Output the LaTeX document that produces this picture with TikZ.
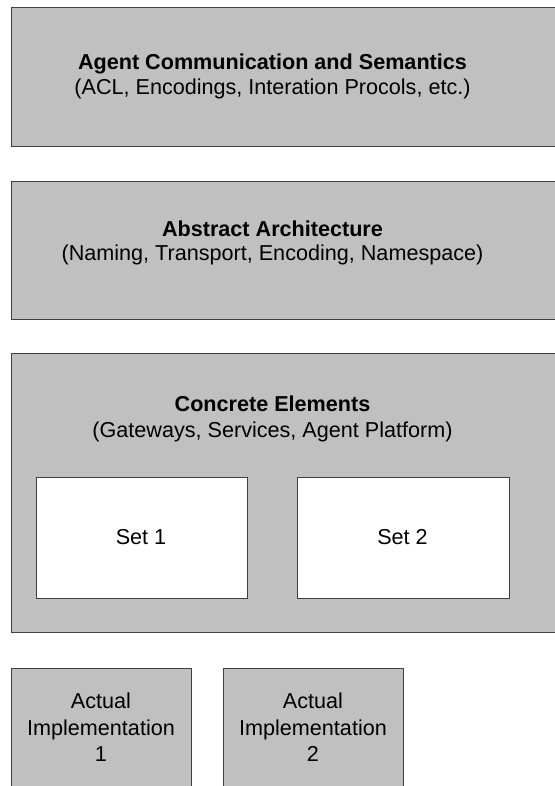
\documentclass[tikz,border=0pt]{standalone}
\usepackage{fontspec}
\setmainfont{Liberation Sans}
\definecolor{boxgray}{HTML}{C0C0C0}
\definecolor{edgegray}{HTML}{404040}
\begin{document}
\begin{tikzpicture}[x=1bp,y=-1bp,
  graybox/.style={draw=edgegray, line width=1.2bp, fill=boxgray, rectangle, inner sep=0pt, anchor=north west},
  whitebox/.style={draw=edgegray, line width=1.2bp, fill=white, rectangle, inner sep=0pt, anchor=north west},
  txt/.style={inner sep=0pt, anchor=base, font=\fontsize{21.6bp}{26bp}\selectfont},
  btxt/.style={txt, font=\fontsize{21.6bp}{26bp}\selectfont\bfseries}]
\useasboundingbox (0,0) rectangle (555,786);
\clip (0,0) rectangle (555,786);
% layer boxes
\node[graybox, minimum width=560bp, minimum height=139bp] (acs) at (11,7) {};
\node[graybox, minimum width=560bp, minimum height=138bp] (aa) at (11,181) {};
\node[graybox, minimum width=560bp, minimum height=279bp] (ce) at (11,353) {};
\node[whitebox, minimum width=211bp, minimum height=121bp] (set1) at (36,477) {};
\node[whitebox, minimum width=212bp, minimum height=121bp] (set2) at (297,477) {};
\node[graybox, minimum width=180bp, minimum height=130bp] (impl1) at (11,668) {};
\node[graybox, minimum width=180bp, minimum height=130bp] (impl2) at (223,668) {};
% texts
\node[btxt] (acs1) at (272.5,69.3) {Agent Communication and Semantics};
\node[txt] (acs2) at (272.5,94) {(ACL, Encodings, Interation Procols, etc.)};
\node[btxt] (aa1) at (272.5,236.7) {Abstract Architecture};
\node[txt] (aa2) at (272.5,260.7) {(Naming, Transport, Encoding, Namespace)};
\node[btxt] (ce1) at (272.5,411) {Concrete Elements};
\node[txt] (ce2) at (272.5,437) {(Gateways, Services, Agent Platform)};
\node[txt] (s1) at (141,544) {Set 1};
\node[txt] (s2) at (402.5,544) {Set 2};
\node[txt] (i1a) at (101,708.3) {Actual};
\node[txt] (i1b) at (101,735) {Implementation};
\node[txt] (i1c) at (101,761.7) {1};
\node[txt] (i2a) at (313,708.3) {Actual};
\node[txt] (i2b) at (313,735) {Implementation};
\node[txt] (i2c) at (313,761.7) {2};
\end{tikzpicture}
\end{document}
